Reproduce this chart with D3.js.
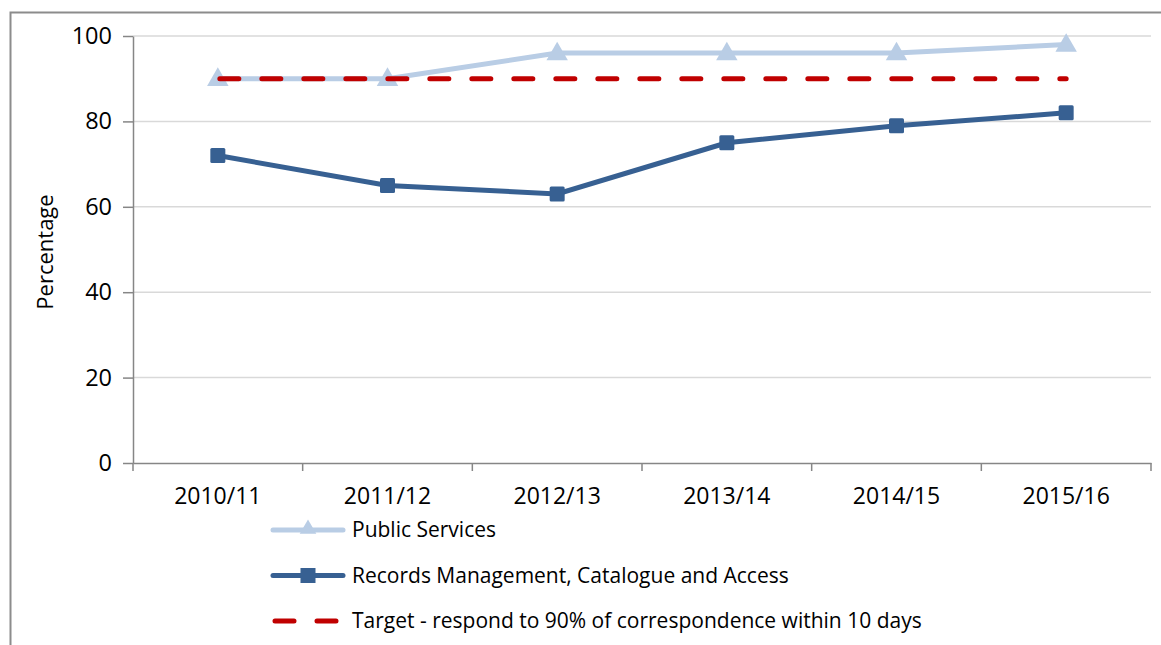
<!DOCTYPE html>
<html>
<head>
<meta charset="utf-8">
<script src="https://cdn.jsdelivr.net/npm/d3@7"></script>
<style>
  body { margin: 0; background: #fff; }
  svg { display: block; font-family: "Open Sans", sans-serif; }
</style>
</head>
<body>
<svg id="chart" width="1161" height="645"></svg>
<script>
const years = ["2010/11", "2011/12", "2012/13", "2013/14", "2014/15", "2015/16"];
const publicServices = [90, 90, 96, 96, 96, 98];
const recordsMgmt = [72, 65, 63, 75, 79, 82];
const target = [90, 90, 90, 90, 90, 90];
const yTicks = [0, 20, 40, 60, 80, 100];
const seriesNames = [
  "Public Services",
  "Records Management, Catalogue and Access",
  "Target - respond to 90% of correspondence within 10 days"
];

const LIGHT = "#b9cde5", DARK = "#376092", RED = "#c00000";
const W = 1161, H = 645;

const svg = d3.select("#chart");

// outer frame (right/bottom go off the picture)
svg.append("rect")
  .attr("x", 10.5).attr("y", 12.5)
  .attr("width", 1200).attr("height", 700)
  .attr("fill", "none").attr("stroke", "#8c8c8c").attr("stroke-width", 2);

const x = d3.scaleBand().domain(years).range([133, 1151]);
const y = d3.scaleLinear().domain([0, 100]).range([463, 36]);
const cx = (d, i) => x(years[i]) + x.bandwidth() / 2;

// gridlines
svg.append("g")
  .selectAll("line")
  .data(yTicks.filter((t) => t > 0))
  .enter()
  .append("line")
  .attr("x1", 133).attr("x2", 1151)
  .attr("y1", (d) => y(d)).attr("y2", (d) => y(d))
  .attr("stroke", "#d9d9d9").attr("stroke-width", 1.5);

// y axis
const yAxis = svg.append("g")
  .attr("transform", "translate(133,0)")
  .call(d3.axisLeft(y).tickValues(yTicks).tickSize(10).tickSizeOuter(0).tickPadding(11));
yAxis.select(".domain").attr("stroke", "#868686").attr("stroke-width", 1.5);
yAxis.selectAll(".tick line").attr("stroke", "#868686").attr("stroke-width", 1.5);
yAxis.selectAll("text").attr("font-size", "23.5px").attr("fill", "#000")
  .attr("font-family", "Open Sans");

// x axis
const xAxis = svg.append("g")
  .attr("transform", "translate(0,463)")
  .call(d3.axisBottom(x).tickSize(0).tickSizeOuter(0).tickPadding(25));
xAxis.select(".domain").attr("stroke", "#868686").attr("stroke-width", 1.5);
xAxis.selectAll("text").attr("font-size", "23px").attr("fill", "#000")
  .attr("font-family", "Open Sans");
xAxis.selectAll("line.sep")
  .data(d3.range(years.length + 1))
  .enter()
  .append("line")
  .attr("class", "sep")
  .attr("x1", (i) => 133 + i * x.step()).attr("x2", (i) => 133 + i * x.step())
  .attr("y1", 0).attr("y2", 8)
  .attr("stroke", "#868686").attr("stroke-width", 1.5);

// y label
svg.append("text")
  .attr("transform", "translate(53,252) rotate(-90)")
  .attr("text-anchor", "middle")
  .attr("font-size", "22px")
  .text("Percentage");

const line = d3.line().x(cx).y((d) => y(d));
const triangle = d3.symbol().type(d3.symbolTriangle).size(200);

// Public Services
svg.append("path").datum(publicServices)
  .attr("d", line).attr("fill", "none")
  .attr("stroke", LIGHT).attr("stroke-width", 5);
svg.append("g").selectAll("path")
  .data(publicServices).enter().append("path")
  .attr("d", triangle())
  .attr("transform", (d, i) => `translate(${cx(d, i)},${y(d) + 1})`)
  .attr("fill", LIGHT);

// Records Management
svg.append("path").datum(recordsMgmt)
  .attr("d", line).attr("fill", "none")
  .attr("stroke", DARK).attr("stroke-width", 5);
svg.append("g").selectAll("rect")
  .data(recordsMgmt).enter().append("rect")
  .attr("x", (d, i) => cx(d, i) - 7.5).attr("y", (d) => y(d) - 7.5)
  .attr("width", 15).attr("height", 15).attr("rx", 1.5)
  .attr("fill", DARK);

// Target
svg.append("path").datum(target)
  .attr("d", line).attr("fill", "none")
  .attr("stroke", RED).attr("stroke-width", 5)
  .attr("stroke-dasharray", "19,23").attr("stroke-linecap", "round")
  .attr("stroke-dashoffset", -2);

// legend
const legend = svg.append("g").attr("transform", "translate(273,530)");
const rows = legend.selectAll("g").data(seriesNames).enter().append("g")
  .attr("transform", (d, i) => `translate(0,${i * 45.5})`);
rows.append("line")
  .attr("x1", (d, i) => i === 2 ? 2 : 0).attr("x2", (d, i) => i === 2 ? 68 : 70)
  .attr("y1", 0).attr("y2", 0)
  .attr("stroke", (d, i) => [LIGHT, DARK, RED][i])
  .attr("stroke-width", 5)
  .attr("stroke-linecap", "round")
  .attr("stroke-dasharray", (d, i) => i === 2 ? "19,23" : null);
rows.filter((d, i) => i === 0).append("path")
  .attr("d", d3.symbol().type(d3.symbolTriangle).size(120)())
  .attr("transform", "translate(35,-1)").attr("fill", LIGHT);
rows.filter((d, i) => i === 1).append("rect")
  .attr("x", 27.5).attr("y", -7.5).attr("width", 15).attr("height", 15)
  .attr("fill", DARK);
rows.append("text")
  .attr("x", 79).attr("dy", "0.35em")
  .attr("font-size", "21px")
  .text((d) => d);
</script>
</body>
</html>
